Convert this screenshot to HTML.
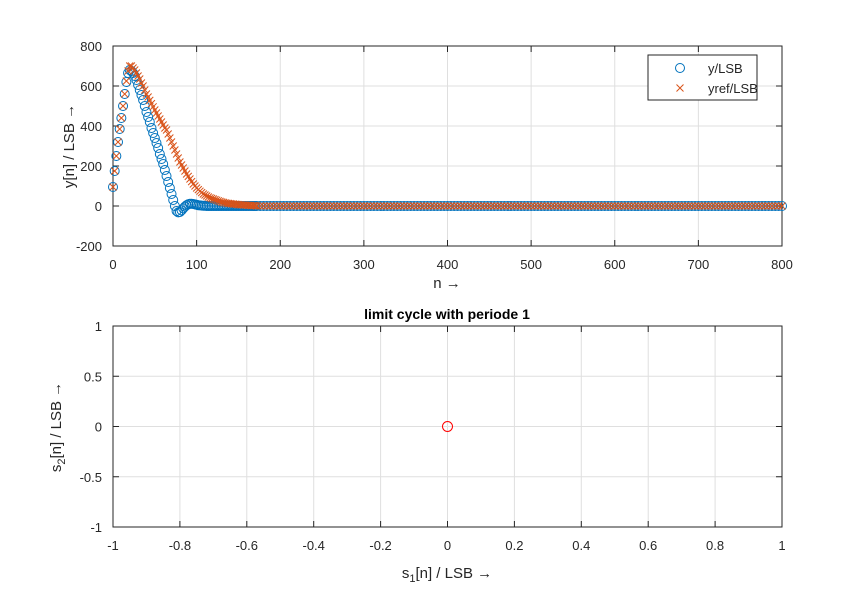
<!DOCTYPE html>
<html><head><meta charset="utf-8"><style>
body{margin:0;background:#fff}
svg{font-family:"Liberation Sans",sans-serif}
</style></head><body>
<svg id="c" width="864" height="594" xmlns="http://www.w3.org/2000/svg">
<rect width="864" height="594" fill="#fff"/>
<g id="topplot"></g>
<g id="botplot"></g>
</svg>
<script>
// top chart data: head at n=0,2,4,...,170 ; tail at n=172,176,...,800
const yHead=[95,175,250,320,385,440,500,560,620,665,680,675,665,650,630,605,580,555,530,500,470,445,420,390,365,340,315,290,260,235,210,180,150,120,90,60,30,0,-25,-32,-30,-22,-12,-3,4,9,11,11,10,8,6,4,3,2,1,1,0,0,0,0,0,0,0,0,0,0,0,0,0,0,0,0,0,0,0,0,0,0,0,0,0,0,0,0,0,0];
const yrefHead=[95,175,250,320,385,440,500,560,625,675,700,700,690,680,665,650,635,615,600,580,560,545,528,512,496,480,465,450,435,420,405,390,380,360,340,320,300,280,260,240,220,205,190,175,160,148,135,122,110,100,90,82,74,67,60,55,50,45,41,38,35,32,29,26,23,20,18,16,14,13,12,11,10,9,8,7,6,6,5,5,4,3,3,2,2,2];
const yTail=[0,0,0,0,0,0,0,0,0,0,0,0,0,0,0,0,0,0,0,0,0,0,0,0,0,0,0,0,0,0,0,0,0,0,0,0,0,0,0,0,
0,0,0,0,0,0,0,0,0,0,0,0,0,0,0,0,0,0,0,0,0,0,0,0,0,0,0,0,0,0,0,0,0,0,0,0,0,0,0,0,
0,0,0,0,0,0,0,0,0,0,0,0,0,0,0,0,0,0,0,0,0,0,0,0,0,0,0,0,0,0,0,0,0,0,0,0,0,0,0,0,
0,0,0,0,0,0,0,0,0,0,0,0,0,0,0,0,0,0,0,0,0,0,0,0,0,0,0,0,0,0,0,0,0,0,0,0,0,0,0,0];
const yrefTail=[0,0,0,0,0,0,0,0,0,0,0,0,0,0,0,0,0,0,0,0,0,0,0,0,0,0,0,0,0,0,0,0,0,0,0,0,0,0,0,0,
0,0,0,0,0,0,0,0,0,0,0,0,0,0,0,0,0,0,0,0,0,0,0,0,0,0,0,0,0,0,0,0,0,0,0,0,0,0,0,0,
0,0,0,0,0,0,0,0,0,0,0,0,0,0,0,0,0,0,0,0,0,0,0,0,0,0,0,0,0,0,0,0,0,0,0,0,0,0,0,0,
0,0,0,0,0,0,0,0,0,0,0,0,0,0,0,0,0,0,0,0,0,0,0,0,0,0,0,0,0,0,0,0,0,0,0,0,0,0,0,0];
const topXTicks=[0,100,200,300,400,500,600,700,800];
const topYTicks=[-200,0,200,400,600,800];
// bottom chart data
const s1=[0];
const s2=[0];
const botXTicks=[-1,-0.8,-0.6,-0.4,-0.2,0,0.2,0.4,0.6,0.8,1];
const botYTicks=[-1,-0.5,0,0.5,1];

const NS="http://www.w3.org/2000/svg";
function el(p,t,a,txt){const e=document.createElementNS(NS,t);for(const k in a)e.setAttribute(k,a[k]);if(txt!==undefined)e.textContent=txt;p.appendChild(e);return e;}

function axes(g,L,R,T,B,x0,x1,y0,y1,xt,yt,fmt){
  const X=v=>L+(v-x0)/(x1-x0)*(R-L), Y=v=>B-(v-y0)/(y1-y0)*(B-T);
  el(g,'rect',{x:L,y:T,width:R-L,height:B-T,fill:'#fff'});
  xt.forEach(v=>{const l=el(g,'line',{x1:X(v),x2:X(v),y1:T,y2:B,stroke:'#dfdfdf','stroke-width':1});
    
    
    const t=el(g,'text',{x:X(v),y:B+23,'text-anchor':'middle','font-size':13,fill:'#262626'},fmt(v));
    
    
    el(g,'line',{x1:X(v),x2:X(v),y1:B,y2:B-6,stroke:'#262626'});el(g,'line',{x1:X(v),x2:X(v),y1:T,y2:T+6,stroke:'#262626'});});
  yt.forEach(v=>{const l=el(g,'line',{x1:L,x2:R,y1:Y(v),y2:Y(v),stroke:'#dfdfdf','stroke-width':1});
    
    
    const t=el(g,'text',{x:L-11,y:Y(v)+5,'text-anchor':'end','font-size':13,fill:'#262626'},fmt(v));
    
    
    el(g,'line',{x1:L,x2:L+6,y1:Y(v),y2:Y(v),stroke:'#262626'});el(g,'line',{x1:R,x2:R-6,y1:Y(v),y2:Y(v),stroke:'#262626'});});
  const f=el(g,'rect',{x:L,y:T,width:R-L,height:B-T,fill:'none',stroke:'#262626','stroke-width':1});
  
  
  return {X,Y};
}
function circ(g,x,y,c,r){el(g,'circle',{cx:x,cy:y,r:r,fill:'none',stroke:c,'stroke-width':1});}
function cross(g,x,y,c){const s=3.5;el(g,'path',{d:`M${x-s},${y-s}L${x+s},${y+s}M${x-s},${y+s}L${x+s},${y-s}`,stroke:c,'stroke-width':1,fill:'none'});}

const topG=document.getElementById('topplot');
const A=axes(topG,113,782,46,246,0,800,-200,800,topXTicks,topYTicks,v=>String(v));
const blue='#0072BD',orange='#D95319';
const sb=el(topG,'g',{});
const so=el(topG,'g',{});
yHead.forEach((v,i)=>circ(sb,A.X(i*2),A.Y(v),blue,4.5));
yTail.forEach((v,i)=>{const n=172+i*4;if(n<=800)circ(sb,A.X(n),A.Y(v),blue,4.5);});
yrefHead.forEach((v,i)=>cross(so,A.X(i*2),A.Y(v),orange));
yrefTail.forEach((v,i)=>{const n=172+i*4;if(n<=800)cross(so,A.X(n),A.Y(v),orange);});
// legend
const lg=el(topG,'g',{});
el(lg,'rect',{x:648,y:55,width:109,height:45,fill:'#fff',stroke:'#262626','stroke-width':1});
circ(lg,680,68,blue,4.5);el(lg,'text',{x:708,y:73,'font-size':13,fill:'#262626'},'y/LSB');
cross(lg,680,88,orange);el(lg,'text',{x:708,y:93,'font-size':13,fill:'#262626'},'yref/LSB');
let tt=el(topG,'text',{x:447,y:288,'text-anchor':'middle','font-size':15,fill:'#262626'},'n →');

tt=el(topG,'text',{x:0,y:0,'text-anchor':'middle','font-size':15,fill:'#262626',transform:'translate(74,146) rotate(-90)'},'y[n] / LSB →');


const botG=document.getElementById('botplot');
const fm=v=>{const r=Math.round(v*10)/10;return r===0?'0':String(r);};
const Bx=axes(botG,113,782,326,527,-1,1,-1,1,botXTicks,botYTicks,fm);
s1.forEach((v,i)=>{const c=el(botG,'circle',{cx:Bx.X(v),cy:Bx.Y(s2[i]),r:5,fill:'none',stroke:'#FF0000','stroke-width':1});
  });
tt=el(botG,'text',{x:447,y:319,'text-anchor':'middle','font-size':14,'font-weight':'bold',fill:'#000'},'limit cycle with periode 1');

tt=el(botG,'text',{x:447,y:578,'text-anchor':'middle','font-size':15,fill:'#262626'});
tt.innerHTML='s<tspan font-size="11" dy="4">1</tspan><tspan dy="-4">[n] / LSB →</tspan>';

tt=el(botG,'text',{x:0,y:0,'text-anchor':'middle','font-size':15,fill:'#262626',transform:'translate(61,427) rotate(-90)'});
tt.innerHTML='s<tspan font-size="11" dy="4">2</tspan><tspan dy="-4">[n] / LSB →</tspan>';

</script>
</body></html>
